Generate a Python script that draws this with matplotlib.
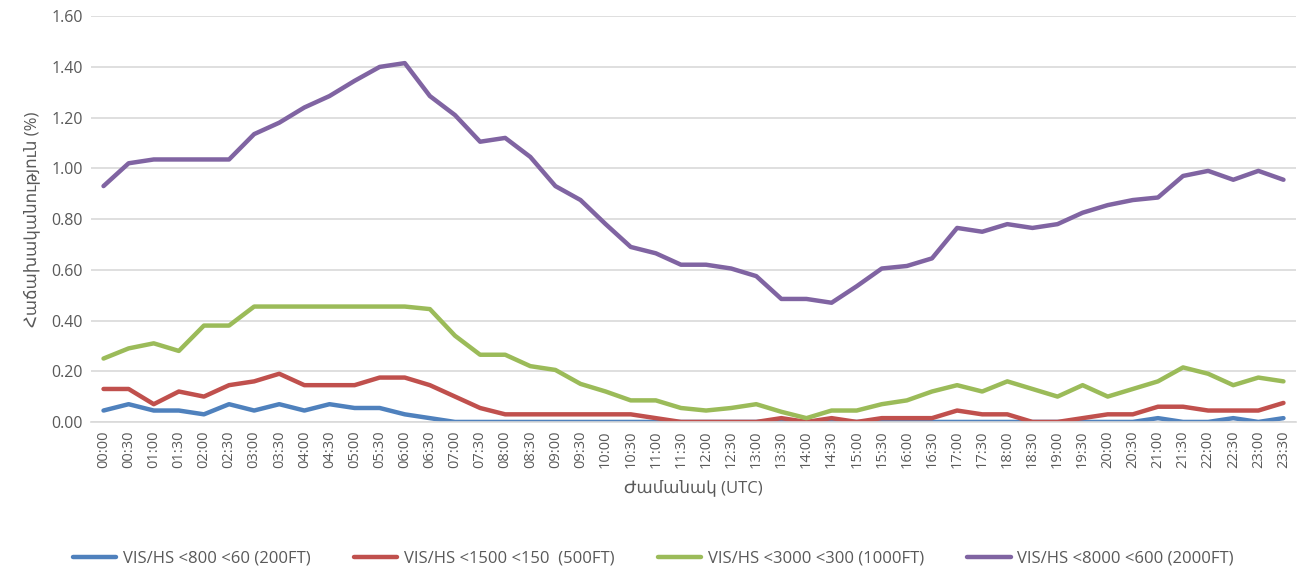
import matplotlib
matplotlib.use("Agg")
import matplotlib.pyplot as plt
import numpy as np

plt.rcParams['font.family'] = ['Open Sans', 'DejaVu Sans']

times = [f"{h:02d}:{m:02d}" for h in range(24) for m in (0, 30)]

vis200 = [0.045, 0.07, 0.045, 0.045, 0.03, 0.07, 0.045, 0.07, 0.045, 0.07, 0.055, 0.055,
          0.03, 0.015, 0.0, 0.0, 0.0, 0.0, 0.0, 0.0, 0.0, 0.0, 0.0, 0.0,
          0.0, 0.0, 0.0, 0.005, 0.0, 0.0, 0.0, 0.0, 0.0, 0.0, 0.0, 0.0,
          0.0, 0.0, 0.0, 0.0, 0.0, 0.0, 0.015, 0.0, 0.0, 0.015, 0.0, 0.015]
vis500 = [0.13, 0.13, 0.07, 0.12, 0.10, 0.145, 0.16, 0.19, 0.145, 0.145, 0.145, 0.175,
          0.175, 0.145, 0.10, 0.055, 0.03, 0.03, 0.03, 0.03, 0.03, 0.03, 0.015, 0.0,
          0.0, 0.0, 0.0, 0.015, 0.0, 0.015, 0.0, 0.015, 0.015, 0.015, 0.045, 0.03,
          0.03, 0.0, 0.0, 0.015, 0.03, 0.03, 0.06, 0.06, 0.045, 0.045, 0.045, 0.075]
vis1000 = [0.25, 0.29, 0.31, 0.28, 0.38, 0.38, 0.455, 0.455, 0.455, 0.455, 0.455, 0.455,
           0.455, 0.445, 0.34, 0.265, 0.265, 0.22, 0.205, 0.15, 0.12, 0.085, 0.085, 0.055,
           0.045, 0.055, 0.07, 0.04, 0.015, 0.045, 0.045, 0.07, 0.085, 0.12, 0.145, 0.12,
           0.16, 0.13, 0.10, 0.145, 0.10, 0.13, 0.16, 0.215, 0.19, 0.145, 0.175, 0.16]
vis2000 = [0.93, 1.02, 1.035, 1.035, 1.035, 1.035, 1.135, 1.18, 1.24, 1.285, 1.345, 1.40,
           1.415, 1.285, 1.21, 1.105, 1.12, 1.045, 0.93, 0.875, 0.78, 0.69, 0.665, 0.62,
           0.62, 0.605, 0.575, 0.485, 0.485, 0.47, 0.535, 0.605, 0.615, 0.645, 0.765, 0.75,
           0.78, 0.765, 0.78, 0.825, 0.855, 0.875, 0.885, 0.97, 0.99, 0.955, 0.99, 0.955]

labels = ["VIS/HS <800 <60 (200FT)", "VIS/HS <1500 <150  (500FT)",
          "VIS/HS <3000 <300 (1000FT)", "VIS/HS <8000 <600 (2000FT)"]
colors = ["#4F81BD", "#C0504D", "#9BBB59", "#8064A2"]
yticks = [0.0, 0.2, 0.4, 0.6, 0.8, 1.0, 1.2, 1.4, 1.6]

fig = plt.figure(figsize=(13.07, 5.78), dpi=100)
ax = fig.add_axes([0.0696, 0.270, 0.922, 0.702])

x = np.arange(len(times))
for vals, lab, col in zip([vis200, vis500, vis1000, vis2000], labels, colors):
    ax.plot(x, vals, color=col, lw=3.2, label=lab, solid_joinstyle='round', solid_capstyle='round')

ax.set_xlim(-0.5, len(times) - 0.5)
ax.set_ylim(0, 1.6)
ax.set_yticks(yticks)
ax.set_yticklabels([f"{v:.2f}" for v in yticks], fontsize=11.5, color="#595959")
ax.set_xticks(x)
ax.set_xticklabels(times, rotation=90, fontsize=10.5, color="#595959")
ax.tick_params(length=0, pad=6)
ax.grid(axis='y', color="#D9D9D9", lw=1.2)
ax.set_axisbelow(True)
for s in ['top', 'right', 'left']:
    ax.spines[s].set_visible(False)
ax.spines['bottom'].set_color("#D9D9D9")
ax.spines['bottom'].set_linewidth(1.2)

ax.set_ylabel("Հաճախականություն (%)", fontsize=12, color="#595959", labelpad=8)
ax.set_xlabel("Ժամանակ (UTC)", fontsize=12, color="#595959", labelpad=8)

fig.legend(loc='center', bbox_to_anchor=(0.5, 0.034), ncol=4, frameon=False,
           fontsize=12, labelcolor="#595959", handlelength=2.6, handletextpad=0.4,
           columnspacing=2.6)

fig.savefig("out.png", dpi=100)
